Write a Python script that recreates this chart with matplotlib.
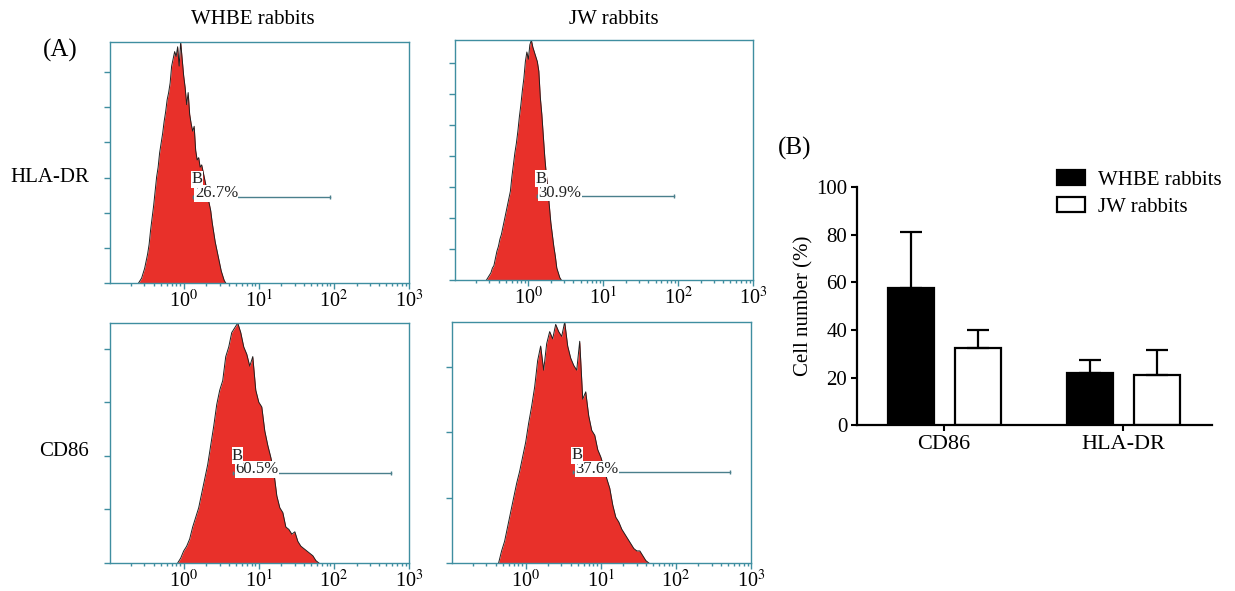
import numpy as np
import matplotlib.pyplot as plt
from matplotlib.ticker import FixedLocator, LogLocator, NullFormatter, FuncFormatter

plt.rcParams['font.family'] = ['Liberation Serif', 'DejaVu Serif']
plt.rcParams['mathtext.fontset'] = 'stix'

# (A) flow cytometry histograms
# each one: first bin in log10 units, bin step, heights in % of the frame
hla_whbe_start, hla_whbe_step = -0.60, 0.02
hla_whbe = [0, 1, 2, 4, 6, 9, 12, 16, 22, 27, 32, 38, 44, 48, 54, 58, 62, 67, 71, 76,
            79, 83, 90, 93, 96, 94, 98, 90, 100, 93, 86, 81, 74, 79, 70, 66, 63, 65, 55, 51,
            52, 48, 49, 46, 43, 40, 36, 33, 30, 25, 21, 17, 14, 11, 8, 5, 3, 1, 0]

hla_jw_start, hla_jw_step = -0.56, 0.02
hla_jw = [0, 1, 2, 3, 5, 6, 9, 12, 14, 17, 19, 22, 25, 28, 31, 34, 37, 43, 48, 53,
          57, 62, 68, 73, 79, 84, 91, 95, 92, 98, 100, 97, 95, 93, 91, 87, 76, 69, 60, 51,
          44, 38, 31, 24, 19, 14, 10, 5, 3, 1, 0]

cd86_whbe_start, cd86_whbe_step = -0.08, 0.04
cd86_whbe = [0, 2, 5, 7, 10, 15, 19, 23, 29, 35, 41, 49, 57, 66, 72, 76, 86, 90, 96, 98,
             100, 96, 90, 87, 82, 86, 72, 67, 65, 55, 49, 44, 38, 28, 23, 21, 15, 14, 12, 13,
             9, 7, 6, 5, 4, 3, 1, 0]

cd86_jw_start, cd86_jw_step = -0.36, 0.04
cd86_jw = [0, 5, 9, 15, 21, 27, 33, 38, 44, 50, 58, 65, 73, 84, 90, 80, 91, 96, 93, 99,
           96, 94, 100, 90, 85, 82, 80, 92, 68, 71, 61, 55, 53, 47, 44, 40, 35, 31, 24, 19,
           17, 14, 12, 10, 8, 6, 5, 5, 3, 1, 0]

# gate B: start / end in log10 units, level in % of frame, label
gate_lo = [0.12, 0.11, 0.66, 0.63]
gate_hi = [1.95, 1.95, 2.76, 2.72]
gate_y = [35.8, 35.0, 37.6, 37.6]
gate_pct = ['26.7%', '30.9%', '60.5%', '37.6%']

# left tick spacing of each histogram (% of frame)
tick_step = [14.58, 12.9, 22.3, 27.1]

# (B) bar chart
groups = ['CD86', 'HLA-DR']
whbe_mean = [57.6, 21.8]
whbe_sem = [23.5, 5.7]
jw_mean = [32.4, 21.2]
jw_sem = [7.7, 10.5]

frame_col = '#3f8ea0'
red = '#e8302a'


def draw_hist(ax, start, step, counts, i):
    xs = 10 ** (start + step * np.arange(len(counts)))
    ax.fill_between(xs, counts, 0, color=red, lw=0)
    ax.plot(xs, counts, color='#202020', lw=0.7)
    ax.set_xscale('log')
    ax.set_xlim(10 ** -0.98, 10 ** 3.0)
    ax.set_ylim(0, 100)
    ax.xaxis.set_major_locator(FixedLocator([1, 10, 100, 1000]))
    ax.xaxis.set_major_formatter(FuncFormatter(lambda v, p: '10$^{%d}$' % round(np.log10(v))))
    ax.xaxis.set_minor_locator(LogLocator(base=10, subs=np.arange(2, 10), numticks=20))
    ax.xaxis.set_minor_formatter(NullFormatter())
    ax.yaxis.set_major_locator(FixedLocator(np.arange(0, 100, tick_step[i])))
    ax.yaxis.set_major_formatter(NullFormatter())
    ax.tick_params(axis='both', which='major', direction='out', length=4, width=1,
                   color=frame_col, labelsize=14.5, pad=1)
    ax.tick_params(axis='x', which='minor', direction='out', length=2.5, width=1, color=frame_col)
    for s in ax.spines.values():
        s.set_color(frame_col)
        s.set_linewidth(1)
    lo, hi, y = 10 ** gate_lo[i], 10 ** gate_hi[i], gate_y[i]
    ax.plot([lo, hi], [y, y], color='#4a7f8c', lw=1.0, marker='|', ms=3, mew=1)
    ax.annotate(gate_pct[i], xy=(lo, y), xytext=(1.5, -0.5), textcoords='offset points',
                fontsize=12, ha='left', va='baseline', color='#222222',
                bbox=dict(fc='white', ec='none', pad=0.3))
    ax.annotate('B', xy=(lo, y), xytext=(-1, 9.5), textcoords='offset points',
                fontsize=12, ha='left', va='baseline', color='#222222',
                bbox=dict(fc='white', ec='none', pad=0.3))


fig = plt.figure(figsize=(12.35, 5.91), dpi=100)

ax1 = fig.add_axes([0.0891, 0.5212, 0.2421, 0.4078])
ax2 = fig.add_axes([0.3684, 0.5262, 0.2413, 0.4061])
ax3 = fig.add_axes([0.0891, 0.0474, 0.2421, 0.4061])
ax4 = fig.add_axes([0.3660, 0.0474, 0.2421, 0.4078])

draw_hist(ax1, hla_whbe_start, hla_whbe_step, hla_whbe, 0)
draw_hist(ax2, hla_jw_start, hla_jw_step, hla_jw, 1)
draw_hist(ax3, cd86_whbe_start, cd86_whbe_step, cd86_whbe, 2)
draw_hist(ax4, cd86_jw_start, cd86_jw_step, cd86_jw, 3)

fig.text(253 / 1235, 1 - 20 / 591, 'WHBE rabbits', fontsize=15, ha='center', va='center')
fig.text(614 / 1235, 1 - 20 / 591, 'JW rabbits', fontsize=15, ha='center', va='center')
fig.text(60 / 1235, 1 - 50 / 591, '(A)', fontsize=18, ha='center', va='center')
fig.text(50 / 1235, 1 - 177 / 591, 'HLA-DR', fontsize=15, ha='center', va='center')
fig.text(64 / 1235, 1 - 452 / 591, 'CD86', fontsize=15, ha='center', va='center')
fig.text(795 / 1235, 1 - 148 / 591, '(B)', fontsize=18, ha='center', va='center')

# (B)
axb = fig.add_axes([0.694, 0.2804, 0.2874, 0.4027])
x = np.arange(len(groups))
w = 0.257
off = 0.187
ekw = dict(ecolor='black', elinewidth=1.6, capsize=8, capthick=1.6)
axb.bar(x - off, whbe_mean, w, color='black', edgecolor='black', lw=1.6,
        yerr=[np.zeros(2), whbe_sem], error_kw=ekw, label='WHBE rabbits')
axb.bar(x + off, jw_mean, w, color='white', edgecolor='black', lw=1.6,
        yerr=[np.zeros(2), jw_sem], error_kw=ekw, label='JW rabbits')
axb.set_xlim(-0.486, 1.497)
axb.set_ylim(0, 100)
axb.set_yticks(np.arange(0, 101, 20))
axb.set_xticks(x)
axb.set_xticklabels(groups)
axb.set_ylabel('Cell number (%)', fontsize=15, labelpad=2)
axb.tick_params(axis='both', labelsize=15, length=4, width=1.5, direction='out', pad=3)
axb.tick_params(axis='x', labelsize=16)
for s in ['top', 'right']:
    axb.spines[s].set_visible(False)
for s in ['left', 'bottom']:
    axb.spines[s].set_linewidth(1.6)
axb.legend(frameon=False, loc='upper left', bbox_to_anchor=(0.856, 0.712),
           bbox_transform=fig.transFigure, fontsize=15, handlelength=1.35,
           handleheight=0.72, handletextpad=0.6, labelspacing=0.35, borderpad=0,
           borderaxespad=0)

fig.savefig('out.png', dpi=100)
